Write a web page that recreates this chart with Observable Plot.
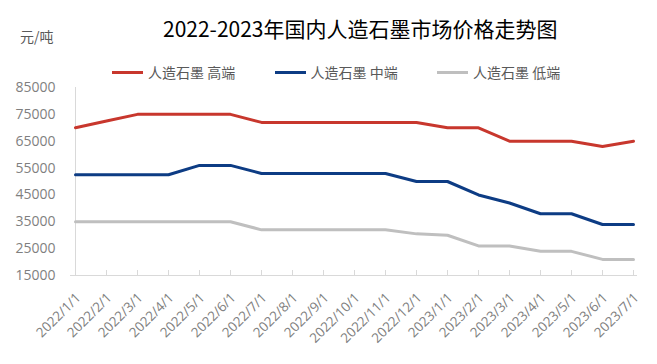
<!DOCTYPE html>
<html>
<head>
<meta charset="utf-8">
<script src="https://cdn.jsdelivr.net/npm/d3@7"></script>
<script src="https://cdn.jsdelivr.net/npm/@observablehq/plot@0.6"></script>
<style>
  html, body { margin: 0; padding: 0; background: #fff; }
  #wrap { position: relative; width: 657px; height: 364px; overflow: hidden; font-family: "Noto Sans CJK SC", "Open Sans", sans-serif; }
  #title { position: absolute; left: 163px; top: 16px; font-size: 21px; line-height: 24px; color: #000; white-space: nowrap; }
  #unit { position: absolute; left: 20px; top: 28px; font-size: 14px; line-height: 16px; color: #595959; white-space: nowrap; }
  .leg { position: absolute; top: 63px; height: 18px; display: flex; align-items: center; font-size: 14px; color: #595959; white-space: nowrap; }
  .leg .sw { width: 31px; height: 3px; margin-right: 5px; }
  #chart { position: absolute; left: 0; top: 0; }
</style>
</head>
<body>
<div id="wrap">
  <div id="chart"></div>
  <div id="title"></div>
  <div id="unit"></div>
</div>
<script>
const titleText = "2022-2023年国内人造石墨市场价格走势图";
const unitText = "元/吨";
const dates = ["2022/1/1","2022/2/1","2022/3/1","2022/4/1","2022/5/1","2022/6/1","2022/7/1","2022/8/1","2022/9/1","2022/10/1","2022/11/1","2022/12/1","2023/1/1","2023/2/1","2023/3/1","2023/4/1","2023/5/1","2023/6/1","2023/7/1"];
const seriesNames = ["人造石墨 高端", "人造石墨 中端", "人造石墨 低端"];
const high = [70000,72500,75000,75000,75000,75000,72000,72000,72000,72000,72000,72000,70000,70000,65000,65000,65000,63000,65000];
const mid  = [52500,52500,52500,52500,56000,56000,53000,53000,53000,53000,53000,50000,50000,45000,42000,38000,38000,34000,34000];
const low  = [35000,35000,35000,35000,35000,35000,32000,32000,32000,32000,32000,30500,30000,26000,26000,24000,24000,21000,21000];
const yTicks = [15000,25000,35000,45000,55000,65000,75000,85000];

const colors = ["#c8372d", "#0d3c84", "#bfbfbf"];
const allValues = [high, mid, low];

const data = [];
seriesNames.forEach((s, si) => {
  dates.forEach((d, i) => data.push({series: s, date: d, value: allValues[si][i]}));
});

const axisColor = "#d9d9d9";
const chart = Plot.plot({
  width: 657,
  height: 364,
  marginLeft: 70,
  marginRight: 20,
  marginTop: 87,
  marginBottom: 89,
  style: {fontFamily: "'Open Sans','Noto Sans CJK SC',sans-serif", background: "transparent", overflow: "visible"},
  x: {type: "point", domain: dates, padding: 0, label: null},
  y: {domain: [15000, 85000], label: null},
  color: {domain: seriesNames, range: colors},
  marks: [
    Plot.ruleX([dates[0]], {stroke: axisColor, strokeWidth: 1}),
    Plot.ruleY([15000], {stroke: axisColor, strokeWidth: 1}),
    Plot.ruleX(dates, {x: d => d, y1: 15000, y2: 15000, insetTop: -5, stroke: axisColor}),
    Plot.axisY({ticks: yTicks, tickSize: 0, tickPadding: 15, fontSize: 14, fill: "#7f7f7f", tickFormat: d => String(d), label: null}),
    Plot.axisX({tickSize: 0, tickRotate: -45, tickPadding: 20, fontSize: 13.5, fill: "#808080", dx: 3, label: null}),
    Plot.line(data, {x: "date", y: "value", stroke: "series", strokeWidth: 3})
  ]
});
document.getElementById("chart").appendChild(chart);
document.getElementById("title").textContent = titleText;
document.getElementById("unit").textContent = unitText;

const wrap = document.getElementById("wrap");
seriesNames.forEach((s, i) => {
  const item = document.createElement("div");
  item.className = "leg";
  item.style.left = (112 + i * 162.5) + "px";
  const sw = document.createElement("span");
  sw.className = "sw";
  sw.style.background = colors[i];
  const tx = document.createElement("span");
  tx.textContent = s;
  item.appendChild(sw);
  item.appendChild(tx);
  wrap.appendChild(item);
});
</script>
</body>
</html>
